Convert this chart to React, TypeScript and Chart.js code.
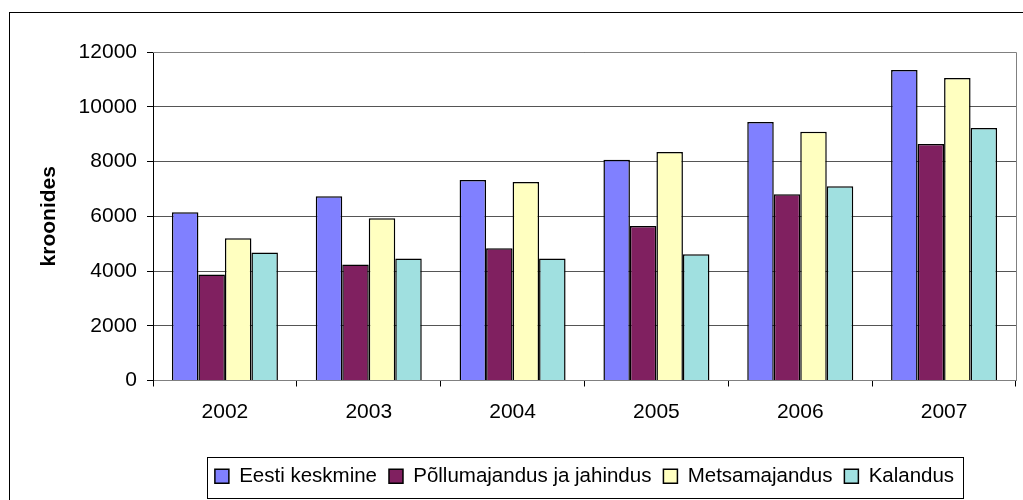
import React, { useEffect, useRef } from "react";
import { Chart, registerables } from "chart.js";

Chart.register(...registerables);

const categories = ["2002", "2003", "2004", "2005", "2006", "2007"];
const seriesNames = ["Eesti keskmine", "Põllumajandus ja jahindus", "Metsamajandus", "Kalandus"];
const eestiKeskmine = [6150, 6730, 7320, 8060, 9440, 11340];
const pollumajandus = [3870, 4240, 4830, 5640, 6800, 8640];
const metsamajandus = [5200, 5930, 7250, 8350, 9090, 11050];
const kalandus = [4680, 4460, 4460, 4610, 7100, 9220];
const seriesColors = ["#8080FF", "#802060", "#FFFFC0", "#A0E0E0"];
const yTitle = "kroonides";

const FONT = "'Liberation Sans', Arial, sans-serif";

const framePlugin = {
  id: "framePlugin",
  beforeDraw(chart: any) {
    const ctx = chart.ctx;
    ctx.save();
    ctx.strokeStyle = "#000";
    ctx.lineWidth = 1;
    ctx.strokeRect(9.5, 12.5, 1200, 700);
    ctx.restore();
  },
  afterDraw(chart: any) {
    const ctx = chart.ctx;
    const a = chart.chartArea;
    ctx.save();
    ctx.strokeStyle = "#808080";
    ctx.lineWidth = 1;
    ctx.beginPath();
    ctx.moveTo(a.left, Math.round(a.top) + 0.5);
    ctx.lineTo(Math.round(a.right) + 0.5, Math.round(a.top) + 0.5);
    ctx.lineTo(Math.round(a.right) + 0.5, a.bottom);
    ctx.stroke();
    const boxes = chart.legend && chart.legend.legendHitBoxes;
    if (boxes && boxes.length) {
      let l = Infinity, r = -Infinity, t = Infinity, b = -Infinity;
      boxes.forEach((h: any) => {
        l = Math.min(l, h.left);
        r = Math.max(r, h.left + h.width);
        t = Math.min(t, h.top);
        b = Math.max(b, h.top + h.height);
      });
      ctx.strokeStyle = "#000";
      ctx.strokeRect(Math.round(l - 8) + 0.5, Math.round(t - 9.5) + 0.5, Math.round(r - l + 17), Math.round(b - t + 20));
    }
    ctx.restore();
  },
};

export default function App() {
  const ref = useRef<HTMLCanvasElement>(null);
  useEffect(() => {
    if (!ref.current) return;
    const data = [eestiKeskmine, pollumajandus, metsamajandus, kalandus];
    const chart = new Chart(ref.current, {
      type: "bar",
      data: {
        labels: categories,
        datasets: seriesNames.map((name, i) => ({
          label: name,
          data: data[i],
          backgroundColor: seriesColors[i],
          borderColor: "#000",
          borderWidth: 1.5,
          categoryPercentage: 0.737,
          barPercentage: 1,
        })),
      },
      options: {
        responsive: false,
        animation: false,
        layout: { padding: { left: 0, right: 7, top: 52, bottom: 3.5 } },
        plugins: {
          tooltip: { enabled: false },
          legend: {
            position: "bottom",
            fullSize: false,
            labels: {
              boxWidth: 14,
              boxHeight: 14,
              padding: 12,
              color: "#000",
              font: { family: FONT, size: 20.5 },
            },
          },
        },
        scales: {
          x: {
            afterFit: (s: any) => {
              s.height = 73.5;
            },
            grid: {
              offset: true,
              drawOnChartArea: false,
              tickLength: 6,
              tickColor: "#000",
            },
            border: { display: true, color: "#808080", width: 1 },
            ticks: { color: "#000", padding: 13, font: { family: FONT, size: 21 } },
          },
          y: {
            min: 0,
            max: 12000,
            afterFit: (s: any) => {
              s.width = 153;
            },
            grid: { color: "#555", tickColor: "#000", tickLength: 6 },
            border: { display: true, color: "#000", width: 1 },
            ticks: {
              stepSize: 2000,
              padding: 10,
              color: "#000",
              font: { family: FONT, size: 21 },
              callback: (v: any) => String(v),
            },
            title: {
              display: true,
              text: yTitle,
              color: "#000",
              padding: { top: 37, bottom: 0 },
              font: { family: FONT, size: 21, weight: "bold" },
            },
          },
        },
      },
      plugins: [framePlugin],
    } as any);
    return () => chart.destroy();
  }, []);
  return (
    <div style={{ position: "fixed", left: 0, top: 0, width: 1023, height: 500, background: "#fff" }}>
      <canvas ref={ref} width={1023} height={500} style={{ display: "block" }} />
    </div>
  );
}
